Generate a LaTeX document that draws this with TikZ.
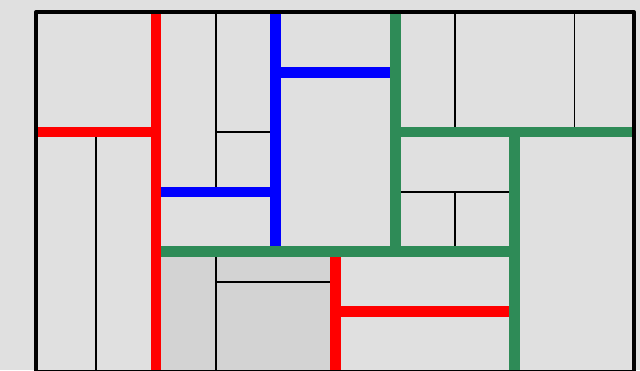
\documentclass[tikz,border=0pt]{standalone}
\usepackage{tikz}
\definecolor{bggray}{HTML}{E0E0E0}
\definecolor{shgray}{HTML}{D3D3D3}
\definecolor{sgreen}{HTML}{2E8B57}

\begin{document}
\begin{tikzpicture}[x=1pt,y=-1pt,
  seam/.style={draw=black,line width=1.6pt},
  cut/.style={line width=10.5pt},
  frame/.style={draw=black,line width=4pt,line join=round}]
  \useasboundingbox (0,0) rectangle (640,370);
  \clip (0,0) rectangle (640,370);
  \fill[bggray] (0,0) rectangle (640,370);
  % shaded cell
  \fill[shgray] (161,256.7) rectangle (330,372);
  % thin seams
  \draw[seam] (96,132) -- (96,372);
  \draw[seam] (216,12) -- (216,192);
  \draw[seam] (216,132) -- (275.5,132);
  \draw[seam] (216,251.7) -- (216,372);
  \draw[seam] (216,281.7) -- (335,281.7);
  \draw[seam] (455,12) -- (455,132);
  \draw[seam] (574.3,12) -- (574.3,132);
  \draw[seam] (395,191.7) -- (514.7,191.7);
  \draw[seam] (455,191.7) -- (455,251.7);
  % blue cuts
  \draw[cut,blue] (275.5,12) -- (275.5,246.7);
  \draw[cut,blue] (280.7,72.3) -- (390,72.3);
  \draw[cut,blue] (161.3,192) -- (270.3,192);
  % green cuts
  \draw[cut,sgreen] (395.3,12) -- (395.3,251.7);
  \draw[cut,sgreen] (400.5,132) -- (634,132);
  \draw[cut,sgreen] (514.7,132) -- (514.7,372);
  \draw[cut,sgreen] (161.3,251.7) -- (520,251.7);
  % red cuts
  \draw[cut,red] (156,12) -- (156,372);
  \draw[cut,red] (36,132) -- (151,132);
  \draw[cut,red] (335.3,256.7) -- (335.3,372);
  \draw[cut,red] (340.5,311.3) -- (509.3,311.3);
  % outer frame
  \draw[frame] (36,12) rectangle (634,371.5);
\end{tikzpicture}
\end{document}
